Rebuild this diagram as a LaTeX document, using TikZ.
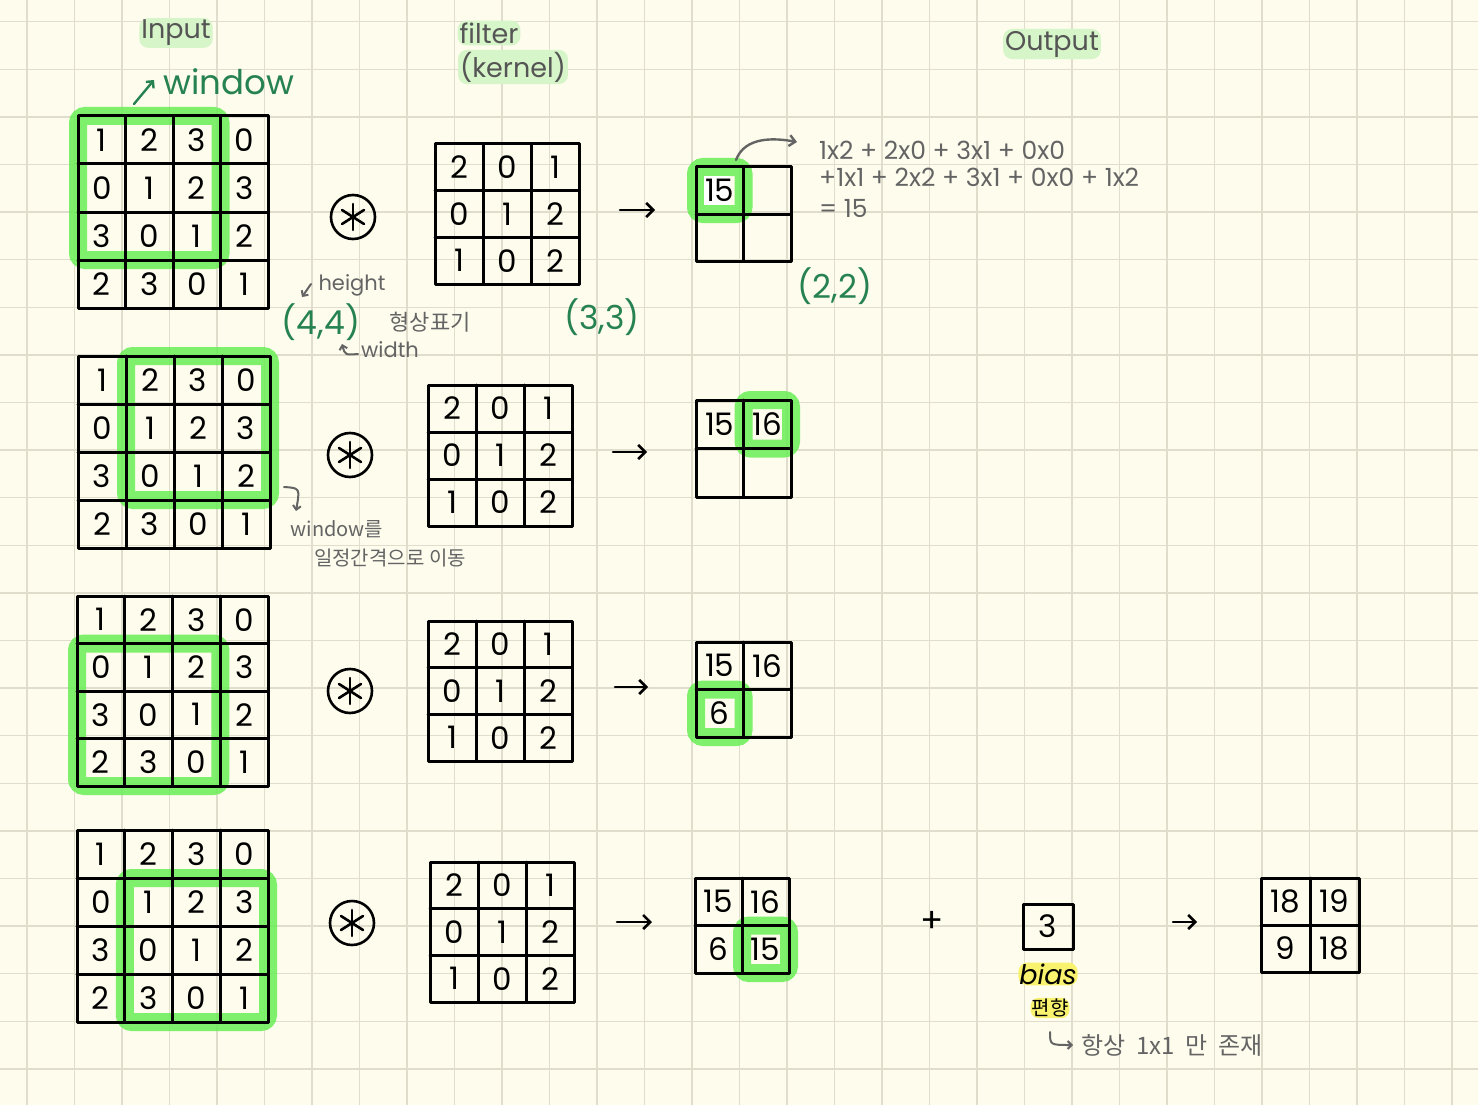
\documentclass[tikz,border=0pt]{standalone}
\usepackage{fontspec}
\setmainfont{Poppins}
\newfontfamily\kr{Noto Sans CJK KR}
\usetikzlibrary{arrows.meta}
\definecolor{paper}{RGB}{254,252,237}
\definecolor{gridc}{RGB}{224,221,205}
\definecolor{dgreen}{RGB}{38,130,80}
\definecolor{pgray}{RGB}{100,100,100}
\definecolor{lgreen}{RGB}{214,245,200}
\definecolor{hlgreen}{RGB}{105,238,85}
\definecolor{hlyellow}{RGB}{248,242,110}
\tikzset{
  gridline/.style={draw=gridc, line width=1.4pt},
  matline/.style={draw=black, line width=3pt, line cap=round, line join=round},
  num/.style={font=\fontsize{31}{31}\selectfont, inner sep=0pt},
  hlbox/.style={draw=hlgreen, line width=18pt, rounded corners=7pt, opacity=0.85},
  hand/.style={line width=2.6pt, line cap=round, -{Straight Barb[length=7pt,width=14pt]}},
  grayarrow/.style={draw=pgray, line width=2.4pt, line cap=round, -{Straight Barb[length=6pt,width=11pt]}},
  pentext/.style={text=pgray, inner sep=1pt},
  title/.style={text=pgray!85!black, font=\fontsize{27}{27}\selectfont, fill=lgreen, rounded corners=9pt, inner sep=2pt},
  shapelabel/.style={text=dgreen, font=\fontsize{33}{33}\selectfont, inner sep=0pt},
  convop/.style={circle, draw=black, line width=2.6pt, minimum size=44pt, inner sep=0pt},
}
% #1 name, #2 left, #3 top, #4 cols, #5 rows, #6 cell w, #7 cell h, #8 entries
\newcommand\drawmat[8]{%
  \draw[matline] (#2,#3) rectangle ({#2+#4*#6},{#3+#5*#7});
  \pgfmathtruncatemacro\lastc{#4-1}
  \pgfmathtruncatemacro\lastr{#5-1}
  \foreach \c in {1,...,\lastc} \draw[matline] ({#2+\c*#6},#3) -- ({#2+\c*#6},{#3+#5*#7});
  \foreach \r in {1,...,\lastr} \draw[matline] (#2,{#3+\r*#7}) -- ({#2+#4*#6},{#3+\r*#7});
  \foreach \v [count=\k from 0] in {#8} {
    \pgfmathtruncatemacro\rr{int(\k/#4)}
    \pgfmathtruncatemacro\cc{mod(\k,#4)}
    \node[num] (#1-\k) at ({#2+(\cc+0.5)*#6},{#3+(\rr+0.5)*#7}) {\v};
  }
}
\newcommand\convsym[2]{%
  \node[convop] (#1) at #2 {};
  \draw[line width=2.6pt, line cap=round] (#1.center) ++(0,-13) -- ++(0,26);
  \draw[line width=2.6pt, line cap=round] (#1.center) ++(-11,-7) -- ++(22,14);
  \draw[line width=2.6pt, line cap=round] (#1.center) ++(-11,7) -- ++(22,-14);
}
\begin{document}
\begin{tikzpicture}[x=1pt,y=-1pt]
\fill[paper] (0,0) rectangle (1478,1105);
\useasboundingbox (0,0) rectangle (1478,1105);
\foreach \i in {0,...,30} \draw[gridline] ({27+47.5*\i},0) -- ({27+47.5*\i},1105);
\foreach \j in {0,...,22} \draw[gridline] (0,{21.7+47.6*\j}) -- (1478,{21.7+47.6*\j});

% ---------- titles ----------
\node[title] (tin) at (176,33) {Input};
\node[title] (tfil) at (489,33) {filter};
\node[title] (tker) at (513,67) {(kernel)};
\node[title] (tout) at (1052,44) {Output};
\node[text=dgreen, font=\fontsize{34}{34}\selectfont, inner sep=0pt] (twin) at (229,82) {window};
\coordinate (wa) at (134,104);
\coordinate (wb) at (154,80);
\draw[hand, draw=dgreen, line width=2.4pt, -{Straight Barb[length=5pt,width=10pt]}] (wa) -- (wb);

% ---------- row 1 ----------
\draw[hlbox] (78,116) rectangle (220.5,260);
\drawmat{ia}{78}{116}{4}{4}{47.5}{48}{1,2,3,0,0,1,2,3,3,0,1,2,2,3,0,1}
\convsym{opa}{(353,217)}
\drawmat{fa}{435}{144}{3}{3}{48}{46.7}{2,0,1,0,1,2,1,0,2}
\coordinate (aa1) at (620,210); \coordinate (aa2) at (655,210);
\draw[hand] (aa1) -- (aa2);
\draw[hlbox] (696,167) rectangle (743.5,214);
\fill[white] (704,176) rectangle (730,205);
\drawmat{oa}{696}{167}{2}{2}{47.5}{47}{15,{},{},{}}

\node[shapelabel] (s44) at (321,322) {(4,4)};
\node[shapelabel] (s33) at (602,317) {(3,3)};
\node[shapelabel] (s22) at (835,286) {(2,2)};
\node[pentext, font=\fontsize{21}{21}\selectfont] (lh) at (352,285) {height};
\node[pentext, font=\fontsize{21}{21}\selectfont] (lw) at (390,350) {width};
\node[pentext, font=\kr\fontsize{22}{22}\selectfont] (lshape) at (430,322) {형상표기};
\coordinate (ha) at (311,284); \coordinate (hb) at (302,297);
\draw[grayarrow, -{Straight Barb[length=4pt,width=8pt]}, line width=2pt] (ha) -- (hb);
\coordinate (wda) at (358,354); \coordinate (wdb) at (342,344);
\draw[grayarrow, -{Straight Barb[length=4pt,width=8pt]}, line width=2pt] (wda) .. controls (345,355) .. (wdb);

\coordinate (fa0) at (736,160); \coordinate (fa1) at (797,142);
\draw[grayarrow] (fa0) .. controls (745,136) and (775,138) .. (fa1);
\node[pentext, anchor=west, font=\fontsize{25}{25}\selectfont] (f1) at (818,150) {1x2 + 2x0 + 3x1 + 0x0};
\node[pentext, anchor=west, font=\fontsize{25}{25}\selectfont] (f2) at (818,177) {+1x1 + 2x2 + 3x1 + 0x0 + 1x2};
\node[pentext, anchor=west, font=\fontsize{25}{25}\selectfont] (f3) at (818,208) {= 15};

% ---------- row 2 ----------
\draw[hlbox] (126,356) rectangle (270,500);
\drawmat{ib}{78}{356}{4}{4}{48}{48}{1,2,3,0,0,1,2,3,3,0,1,2,2,3,0,1}
\convsym{opb}{(350,455)}
\drawmat{fb}{428}{385}{3}{3}{48}{47}{2,0,1,0,1,2,1,0,2}
\coordinate (ab1) at (613,452); \coordinate (ab2) at (647,452);
\draw[hand] (ab1) -- (ab2);
\draw[hlbox] (743.5,400) rectangle (791,448.5);
\drawmat{ob}{696}{400}{2}{2}{47.5}{48.5}{15,16,{},{}}
\coordinate (ma) at (284,487); \coordinate (mb) at (296,511);
\draw[grayarrow, -{Straight Barb[length=4pt,width=8pt]}, line width=2pt] (ma) .. controls (300,488) .. (mb);
\node[pentext, font=\kr\fontsize{20}{20}\selectfont] (lm1) at (337,529) {window를};
\node[pentext, font=\kr\fontsize{20}{20}\selectfont] (lm2) at (390,558) {일정간격으로 이동};

% ---------- row 3 ----------
\draw[hlbox] (77,643.5) rectangle (220.4,786);
\drawmat{ic}{77}{596}{4}{4}{47.8}{47.5}{1,2,3,0,0,1,2,3,3,0,1,2,2,3,0,1}
\convsym{opc}{(350,691)}
\drawmat{fc}{428}{621}{3}{3}{48}{46.7}{2,0,1,0,1,2,1,0,2}
\coordinate (ac1) at (615,687); \coordinate (ac2) at (648,687);
\draw[hand] (ac1) -- (ac2);
\draw[hlbox] (696,689.5) rectangle (743.5,737);
\drawmat{oc}{696}{642}{2}{2}{47.5}{47.5}{15,16,6,{}}

% ---------- row 4 ----------
\draw[hlbox] (124.8,878) rectangle (268,1022);
\drawmat{id}{77}{830}{4}{4}{47.8}{48}{1,2,3,0,0,1,2,3,3,0,1,2,2,3,0,1}
\convsym{opd}{(352,923)}
\drawmat{fd}{430}{862}{3}{3}{48}{46.7}{2,0,1,0,1,2,1,0,2}
\coordinate (ad1) at (617,922); \coordinate (ad2) at (652,922);
\draw[hand] (ad1) -- (ad2);
\draw[hlbox] (742,925.5) rectangle (789,973);
\drawmat{od}{695}{878}{2}{2}{47}{47.5}{15,16,6,15}

\node[font=\fontsize{34}{34}\selectfont, inner sep=0pt] (plus) at (932,922) {+};
\draw[matline] (1023,904) rectangle (1073,949);
\node[num] (bias) at (1048,926.5) {3};
\node[font=\fontsize{27}{27}\selectfont, fill=hlyellow, rounded corners=9pt, inner sep=1pt] (lbias) at (1048,974) {\itshape bias};
\node[font=\kr\fontsize{20}{20}\selectfont, fill=hlyellow, rounded corners=8pt, inner sep=1pt] (lpy) at (1050,1008) {편향};
\coordinate (ba) at (1050,1032); \coordinate (bb) at (1073,1045);
\draw[grayarrow, -{Straight Barb[length=4pt,width=8pt]}, line width=2pt] (ba) .. controls (1050,1045) .. (bb);
\node[pentext, anchor=west, font=\kr\fontsize{24}{24}\selectfont] (lalw) at (1080,1045) {항상\ \ 1x1\ \ 만\ \ 존재};
\coordinate (ae1) at (1173,922); \coordinate (ae2) at (1197,922);
\draw[hand] (ae1) -- (ae2);
\drawmat{oe}{1261}{878}{2}{2}{49}{47}{18,19,9,18}
\end{tikzpicture}
\end{document}
